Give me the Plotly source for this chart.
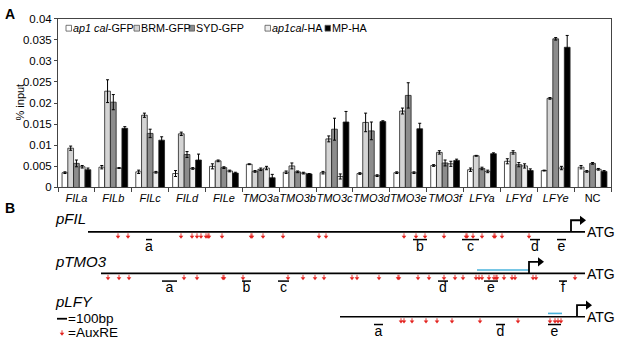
import plotly.graph_objects as go

W, H = 617, 345
FONT = "Arial, Liberation Sans, sans-serif"

# ---------------- Panel A data ----------------
categories = ["FILa", "FILb", "FILc", "FILd", "FILe", "TMO3a", "TMO3b", "TMO3c",
              "TMO3d", "TMO3e", "TMO3f", "LFYa", "LFYd", "LFYe", "NC"]
tick_labels = ["<i>%s</i>" % c if c != "NC" else c for c in categories]

series_names = ["<i>ap1 cal</i>-GFP", "BRM-GFP", "SYD-GFP", "<i>ap1cal</i>-HA", "MP-HA"]
series_colors = ["#ffffff", "#d4d4d4", "#8c8c8c", "#ededed", "#000000"]

ap1cal_gfp = [0.0035, 0.0048, 0.0037, 0.0033, 0.0050, 0.0055, 0.0036, 0.0035,
              0.0033, 0.0035, 0.0052, 0.0042, 0.0062, 0.0040, 0.0048]
brm_gfp = [0.0093, 0.0228, 0.0171, 0.0127, 0.0063, 0.0038, 0.0051, 0.0115,
           0.0154, 0.0181, 0.0083, 0.0075, 0.0083, 0.0211, 0.0038]
syd_gfp = [0.0057, 0.0202, 0.0128, 0.0078, 0.0047, 0.0043, 0.0037, 0.0138,
           0.0134, 0.0218, 0.0058, 0.0045, 0.0054, 0.0352, 0.0057]
ap1cal_ha = [0.0049, 0.0046, 0.0036, 0.0045, 0.0039, 0.0046, 0.0034, 0.0026,
             0.0028, 0.0035, 0.0056, 0.0038, 0.0051, 0.0046, 0.0043]
mp_ha = [0.0042, 0.0140, 0.0112, 0.0065, 0.0034, 0.0023, 0.0032, 0.0155,
         0.0156, 0.0139, 0.0064, 0.0080, 0.0040, 0.0332, 0.0038]

err_ap1cal_gfp = [0.0002, 0.0004, 0.0004, 0.0007, 0.0006, 0.0001, 0.0003, 0.0003,
                  0.0002, 0.0002, 0.0002, 0.0004, 0.0006, 0.0001, 0.0004]
err_brm_gfp = [0.0005, 0.0027, 0.0005, 0.0004, 0.0002, 0.0002, 0.0007, 0.0007,
               0.0022, 0.0007, 0.0004, 0.0001, 0.0004, 0.0002, 0.0002]
err_syd_gfp = [0.0008, 0.0018, 0.0010, 0.0007, 0.0002, 0.0003, 0.0002, 0.0026,
               0.0021, 0.0030, 0.0007, 0.0003, 0.0005, 0.0003, 0.0002]
err_ap1cal_ha = [0.0003, 0.0001, 0.0002, 0.0002, 0.0002, 0.0004, 0.0002, 0.0006,
                 0.0002, 0.0002, 0.0006, 0.0003, 0.0005, 0.0004, 0.0002]
err_mp_ha = [0.0004, 0.0004, 0.0008, 0.0014, 0.0002, 0.0008, 0.0001, 0.0025,
             0.0002, 0.0013, 0.0003, 0.0002, 0.0004, 0.0028, 0.0002]

series_values = [ap1cal_gfp, brm_gfp, syd_gfp, ap1cal_ha, mp_ha]
series_errors = [err_ap1cal_gfp, err_brm_gfp, err_syd_gfp, err_ap1cal_ha, err_mp_ha]

y_tickvals = [0, 0.005, 0.01, 0.015, 0.02, 0.025, 0.03, 0.035, 0.04]
y_ticktext = ["0", "0.005", "0.01", "0.015", "0.02", "0.025", "0.03", "0.035", "0.04"]

# ---------------- Panel B data (bp relative to ATG) ----------------
promoters = ["pFIL", "pTMO3", "pLFY"]
promoter_start = [-4970, -4840, -2450]
tss_pos = [-140, -560, -80]

auxre_pFIL = [-4670, -4570, -4040, -3930, -3880, -3840, -3790, -3770, -3760, -3630,
              -3340, -3330, -3220, -3020, -2660, -2590, -1810, -1690, -1600, -1410,
              -1190, -1180, -1120, -1030, -910, -900, -830, -560]
auxre_pTMO3 = [-4770, -4660, -4560, -4010, -3880, -3620, -3610, -3420, -2970, -2820,
               -2700, -2610, -2330, -2280, -2060, -1870, -1860, -1670, -1560, -1410,
               -1300, -1220, -1090, -1060, -1030, -960, -910, -890, -880, -810,
               -730, -700, -520, -490, -100]
auxre_pLFY = [-1840, -1810, -1730, -1590, -1480, -1330, -1050, -670, -350, -300,
              -270, -240]

frag_pFIL_labels = ["a", "b", "c", "d", "e"]
frag_pFIL_start = [-4390, -1720, -1230, -550, -280]
frag_pFIL_end = [-4330, -1580, -1060, -450, -190]

frag_pTMO3_labels = ["a", "b", "c", "d", "e", "f"]
frag_pTMO3_start = [-4230, -3430, -3070, -1470, -1010, -260]
frag_pTMO3_end = [-4080, -3340, -2960, -1370, -870, -180]

frag_pLFY_labels = ["a", "d", "e"]
frag_pLFY_start = [-2110, -890, -370]
frag_pLFY_end = [-2020, -800, -240]

peak_start = [None, -1080, -370]
peak_end = [None, -560, -230]

scale_bar_bp = 100

auxre_all = [auxre_pFIL, auxre_pTMO3, auxre_pLFY]
frag_labels = [frag_pFIL_labels, frag_pTMO3_labels, frag_pLFY_labels]
frag_start = [frag_pFIL_start, frag_pTMO3_start, frag_pLFY_start]
frag_end = [frag_pFIL_end, frag_pTMO3_end, frag_pLFY_end]

# ---------------- layout geometry (pixels) ----------------
A_left, A_right, A_top, A_bottom = 58, 611, 13, 188
row_y = [234, 277, 322]
label_y = [220, 265, 306]
RED = "#e3231f"
BLUE = "#49b3dc"


def P(x, y):
    return x / W, 1 - y / H


fig = go.Figure()

for name, vals, errs, col in zip(series_names, series_values, series_errors, series_colors):
    fig.add_trace(go.Bar(
        x=categories, y=vals, name=name, showlegend=False,
        marker=dict(color=col, line=dict(color="#222222", width=0.8)),
        error_y=dict(type="data", array=errs, visible=True, color="#000000",
                     thickness=1, width=1.5),
        xaxis="x", yaxis="y"))

# Panel B traces
for i, p in enumerate(promoters):
    y0 = row_y[i]
    fig.add_trace(go.Scatter(x=[promoter_start[i], 0], y=[y0, y0], mode="lines",
                             line=dict(color="#000000", width=1.6), showlegend=False,
                             hoverinfo="skip", xaxis="x2", yaxis="y2"))
    if peak_start[i] is not None:
        fig.add_trace(go.Scatter(x=[peak_start[i], peak_end[i]], y=[y0 - 3.5, y0 - 3.5],
                                 mode="lines", line=dict(color=BLUE, width=1.6),
                                 showlegend=False, hoverinfo="skip",
                                 xaxis="x2", yaxis="y2"))
    t = tss_pos[i]
    top = y0 - 12
    fig.add_trace(go.Scatter(x=[t, t, t + 100], y=[y0, top, top], mode="lines",
                             line=dict(color="#000000", width=1.8), showlegend=False,
                             hoverinfo="skip", xaxis="x2", yaxis="y2"))
    fig.add_trace(go.Scatter(x=[t + 110], y=[top], mode="markers",
                             marker=dict(symbol="triangle-right", size=8, color="#000000"),
                             showlegend=False, hoverinfo="skip", xaxis="x2", yaxis="y2"))
    sx, sy = [], []
    for a in auxre_all[i]:
        sx += [a, a, None]
        sy += [y0 + 1.5, y0 + 4.5, None]
    fig.add_trace(go.Scatter(x=sx, y=sy, mode="lines", line=dict(color=RED, width=0.9),
                             showlegend=False, hoverinfo="skip", xaxis="x2", yaxis="y2"))
    fig.add_trace(go.Scatter(x=auxre_all[i], y=[y0 + 5] * len(auxre_all[i]),
                             mode="markers",
                             marker=dict(symbol="triangle-down", size=4, color=RED),
                             showlegend=False, hoverinfo="skip", xaxis="x2", yaxis="y2"))
    fx, fy = [], []
    for s, e in zip(frag_start[i], frag_end[i]):
        fx += [s, e, None]
        fy += [y0 + 8, y0 + 8, None]
    fig.add_trace(go.Scatter(x=fx, y=fy, mode="lines", line=dict(color="#000000", width=1.5),
                             showlegend=False, hoverinfo="skip", xaxis="x2", yaxis="y2"))
    mids = [(s + e) / 2 for s, e in zip(frag_start[i], frag_end[i])]
    fig.add_trace(go.Scatter(x=mids, y=[y0 + 16] * len(mids), mode="text",
                             text=frag_labels[i],
                             textfont=dict(family=FONT, size=14, color="#000000"),
                             showlegend=False, hoverinfo="skip", xaxis="x2", yaxis="y2"))

# scale bar and AuxRE key
sb_x0 = -5280
fig.add_trace(go.Scatter(x=[sb_x0, sb_x0 + scale_bar_bp], y=[324, 324], mode="lines",
                         line=dict(color="#000000", width=1.8), showlegend=False,
                         hoverinfo="skip", xaxis="x2", yaxis="y2"))
fig.add_trace(go.Scatter(x=[-5230, -5230], y=[336, 339], mode="lines",
                         line=dict(color=RED, width=0.9), showlegend=False,
                         hoverinfo="skip", xaxis="x2", yaxis="y2"))
fig.add_trace(go.Scatter(x=[-5230], y=[339.5], mode="markers",
                         marker=dict(symbol="triangle-down", size=4, color=RED),
                         showlegend=False, hoverinfo="skip", xaxis="x2", yaxis="y2"))

annotations = []


def add_text(x, y, text, size, xanchor="left", bold=False, italic=False, angle=0):
    if bold:
        text = "<b>%s</b>" % text
    if italic:
        text = "<i>%s</i>" % text
    px, py = P(x, y)
    annotations.append(dict(x=px, y=py, xref="paper", yref="paper", text=text,
                            showarrow=False, xanchor=xanchor, yanchor="middle",
                            textangle=angle, borderpad=0,
                            font=dict(family=FONT, size=size, color="#000000")))


add_text(4, 8, "A", 14, bold=True)
add_text(4, 209, "B", 14, bold=True)
add_text(20, 100, "% input", 11, xanchor="center", angle=-90)

leg_sq_x = [66, 134, 189, 265, 325]
shapes = []
for sx_, name, col in zip(leg_sq_x, series_names, series_colors):
    x0, y0_ = P(sx_, 20)
    x1, y1_ = P(sx_ + 5.5, 26)
    shapes.append(dict(type="rect", xref="paper", yref="paper", x0=x0, x1=x1,
                       y0=y1_, y1=y0_, fillcolor=col,
                       line=dict(color="#555555", width=0.8)))
    add_text(sx_ + 6, 23, name, 10.8)

for i, p in enumerate(promoters):
    add_text(54, label_y[i], p, 15, italic=True)
    add_text(586, row_y[i] + 0.5, "ATG", 14)

add_text(67, 324, "=100bp", 13.5)
add_text(67, 338.5, "=AuxRE", 13.5)

fig.update_layout(
    width=W, height=H,
    margin=dict(l=0, r=0, t=0, b=0),
    paper_bgcolor="#ffffff", plot_bgcolor="#ffffff",
    barmode="group", bargap=0.22, bargroupgap=0.0,
    showlegend=False,
    font=dict(family=FONT, size=11, color="#000000"),
    xaxis=dict(domain=[A_left / W, A_right / W], type="category",
               tickvals=categories, ticktext=tick_labels, tickangle=0,
               tickfont=dict(family=FONT, size=11, color="#000000"),
               ticks="outside", tickson="boundaries", ticklen=4, tickcolor="#444444",
               showline=True, linecolor="#444444", linewidth=1, mirror=True,
               showgrid=False, zeroline=False, anchor="y"),
    yaxis=dict(domain=[1 - A_bottom / H, 1 - A_top / H], range=[0, 0.04],
               tickvals=y_tickvals, ticktext=y_ticktext,
               tickfont=dict(family=FONT, size=11.5, color="#000000"),
               ticks="outside", ticklen=3, tickcolor="#444444",
               showline=True, linecolor="#444444", linewidth=1, mirror=True,
               showgrid=False, zeroline=False, anchor="x"),
    xaxis2=dict(domain=[0, 1], range=[-5850, 320], visible=False, anchor="y2"),
    yaxis2=dict(domain=[0, 145 / H], range=[345, 200], visible=False, anchor="x2"),
    annotations=annotations,
    shapes=shapes,
)

fig.write_html("out.html", config={"displayModeBar": False},
               post_script="document.body.style.margin='0';document.body.style.overflow='hidden';")
